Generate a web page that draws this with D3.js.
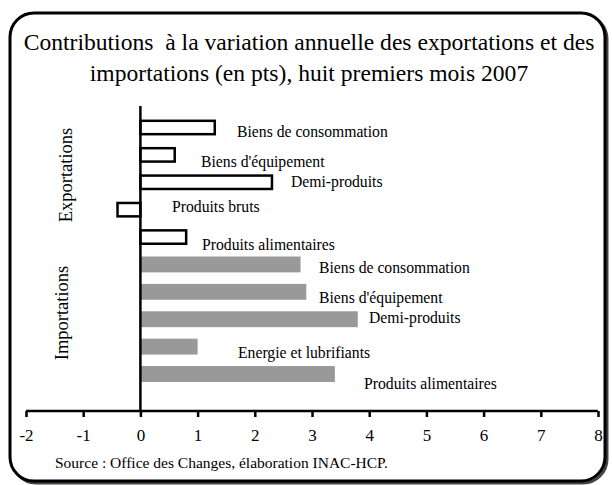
<!DOCTYPE html>
<html>
<head>
<meta charset="utf-8">
<script src="https://cdn.jsdelivr.net/npm/d3@7"></script>
<style>
  body { margin: 0; background: #fff; }
  text { font-family: "Liberation Serif", "Times New Roman", serif; fill: #000; }
  .title { white-space: pre; }
</style>
</head>
<body>
<svg id="chart" width="612" height="485"></svg>
<script>
// données
const groups = ["Exportations", "Importations"];
const categories = [
  "Biens de consommation", "Biens d'équipement", "Demi-produits", "Produits bruts", "Produits alimentaires",
  "Biens de consommation", "Biens d'équipement", "Demi-produits", "Energie et lubrifiants", "Produits alimentaires"
];
const categoryGroup = ["Exportations", "Exportations", "Exportations", "Exportations", "Exportations",
  "Importations", "Importations", "Importations", "Importations", "Importations"];
const values = [1.3, 0.6, 2.3, -0.4, 0.8, 2.8, 2.9, 3.8, 1.0, 3.4];
const xTicks = [-2, -1, 0, 1, 2, 3, 4, 5, 6, 7, 8];

const titleLines = [
  "Contributions  à la variation annuelle des exportations et des",
  "importations (en pts), huit premiers mois 2007"
];
const sourceText = "Source : Office des Changes, élaboration INAC-HCP.";

// position des étiquettes (x en pixels, dy par rapport au centre de la barre)
const labelLayout = [
  [237, 9.5], [201, 12], [291, 5], [172, 2.5], [202, 13],
  [319, 8.5], [319, 11.5], [369, 4], [238, 11.5], [364, 15]
];

const svg = d3.select("#chart");

// cadre arrondi
svg.append("rect")
  .attr("x", 12).attr("y", 15).attr("width", 595).attr("height", 468)
  .attr("rx", 24).attr("ry", 24)
  .attr("fill", "none").attr("stroke", "#444").attr("stroke-width", 3);
svg.append("rect")
  .attr("x", 10).attr("y", 13).attr("width", 595).attr("height", 468)
  .attr("rx", 24).attr("ry", 24)
  .attr("fill", "#fff").attr("stroke", "#000").attr("stroke-width", 3);

// titre
svg.selectAll(".title")
  .data(titleLines)
  .enter()
  .append("text")
  .attr("class", "title")
  .attr("x", 309)
  .attr("y", function(d, i){ return 50 + i * 31; })
  .attr("text-anchor", "middle")
  .style("font-size", "23.6px")
  .text(function(d){ return d; });

const xScale = d3.scaleLinear().domain([-2, 8]).range([26, 598]);
const yScale = d3.scaleBand()
  .domain(d3.range(categories.length))
  .range([113.8, 387.7])
  .paddingInner(0.42)
  .paddingOuter(0.21);

const axisY = 411;
const sw = 2.5;

// barres
svg.selectAll(".bar")
  .data(values)
  .enter()
  .append("rect")
  .attr("class", "bar")
  .attr("x", function(d){ return xScale(Math.min(0, d)); })
  .attr("y", function(d, i){ return categoryGroup[i] === "Exportations" ? yScale(i) + sw / 2 : yScale(i); })
  .attr("width", function(d){ return Math.abs(xScale(d) - xScale(0)); })
  .attr("height", function(d, i){ return categoryGroup[i] === "Exportations" ? yScale.bandwidth() - sw : yScale.bandwidth(); })
  .attr("fill", function(d, i){ return categoryGroup[i] === "Exportations" ? "#fff" : "#999999"; })
  .attr("stroke", function(d, i){ return categoryGroup[i] === "Exportations" ? "#000" : "none"; })
  .attr("stroke-width", sw);

// axe horizontal
const xAxis = d3.axisBottom(xScale)
  .tickValues(xTicks)
  .tickSize(6)
  .tickPadding(12)
  .tickFormat(function(d){ return String(d); });
const gx = svg.append("g")
  .attr("transform", "translate(0," + axisY + ")")
  .call(xAxis);
gx.select(".domain").attr("stroke", "#000").attr("stroke-width", 2.5)
  .attr("d", "M" + xScale(-2) + ",0H" + xScale(8));
gx.selectAll(".tick line").attr("stroke", "#000").attr("stroke-width", 2.5);
gx.selectAll(".tick text")
  .style("font-family", "'Liberation Serif', 'Times New Roman', serif")
  .style("font-size", "17px")
  .attr("fill", "#000");

// axe vertical en zéro
svg.append("line")
  .attr("x1", xScale(0)).attr("x2", xScale(0))
  .attr("y1", 106).attr("y2", axisY)
  .attr("stroke", "#000").attr("stroke-width", 2.5);

// étiquettes des barres
svg.selectAll(".label")
  .data(categories)
  .enter()
  .append("text")
  .attr("class", "label")
  .attr("x", function(d, i){ return labelLayout[i][0]; })
  .attr("y", function(d, i){ return yScale(i) + yScale.bandwidth() / 2 + labelLayout[i][1]; })
  .style("font-size", "15.7px")
  .text(function(d){ return d; });

// libellés des groupes
const groupCenter = { "Exportations": [72, 175], "Importations": [68, 313] };
svg.selectAll(".group")
  .data(groups)
  .enter()
  .append("text")
  .attr("class", "group")
  .attr("transform", function(d){ return "translate(" + groupCenter[d][0] + "," + groupCenter[d][1] + ") rotate(-90)"; })
  .attr("text-anchor", "middle")
  .style("font-size", "18.5px")
  .text(function(d){ return d; });

// source
svg.append("text")
  .attr("x", 55)
  .attr("y", 468)
  .style("font-size", "15.5px")
  .text(sourceText);
</script>
</body>
</html>
